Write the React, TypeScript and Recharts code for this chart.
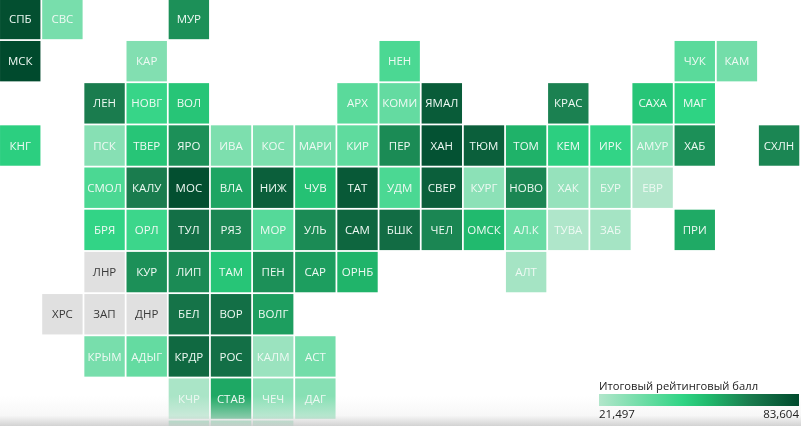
import { Scatter, ScatterChart, XAxis, YAxis } from "recharts";

// grid tile map of Russian regions, scores
// the last row is cut by the page edge in the picture, so it has no readable codes
const codes = [
  "СПБ", "СВС", "МУР",
  "МСК", "КАР", "НЕН", "ЧУК", "КАМ",
  "ЛЕН", "НОВГ", "ВОЛ", "АРХ", "КОМИ", "ЯМАЛ", "КРАС", "САХА", "МАГ",
  "КНГ", "ПСК", "ТВЕР", "ЯРО", "ИВА", "КОС", "МАРИ", "КИР", "ПЕР", "ХАН", "ТЮМ", "ТОМ", "КЕМ", "ИРК", "АМУР", "ХАБ", "СХЛН",
  "СМОЛ", "КАЛУ", "МОС", "ВЛА", "НИЖ", "ЧУВ", "ТАТ", "УДМ", "СВЕР", "КУРГ", "НОВО", "ХАК", "БУР", "ЕВР",
  "БРЯ", "ОРЛ", "ТУЛ", "РЯЗ", "МОР", "УЛЬ", "САМ", "БШК", "ЧЕЛ", "ОМСК", "АЛ.К", "ТУВА", "ЗАБ", "ПРИ",
  "ЛНР", "КУР", "ЛИП", "ТАМ", "ПЕН", "САР", "ОРНБ", "АЛТ",
  "ХРС", "ЗАП", "ДНР", "БЕЛ", "ВОР", "ВОЛГ",
  "КРЫМ", "АДЫГ", "КРДР", "РОС", "КАЛМ", "АСТ",
  "КЧР", "СТАВ", "ЧЕЧ", "ДАГ",
  "", "", "",
];
const cols = [
  0, 1, 4,
  0, 3, 9, 16, 17,
  2, 3, 4, 8, 9, 10, 13, 15, 16,
  0, 2, 3, 4, 5, 6, 7, 8, 9, 10, 11, 12, 13, 14, 15, 16, 18,
  2, 3, 4, 5, 6, 7, 8, 9, 10, 11, 12, 13, 14, 15,
  2, 3, 4, 5, 6, 7, 8, 9, 10, 11, 12, 13, 14, 16,
  2, 3, 4, 5, 6, 7, 8, 12,
  1, 2, 3, 4, 5, 6,
  2, 3, 4, 5, 6, 7,
  4, 5, 6, 7,
  4, 5, 6,
];
const rows = [
  0, 0, 0,
  1, 1, 1, 1, 1,
  2, 2, 2, 2, 2, 2, 2, 2, 2,
  3, 3, 3, 3, 3, 3, 3, 3, 3, 3, 3, 3, 3, 3, 3, 3, 3,
  4, 4, 4, 4, 4, 4, 4, 4, 4, 4, 4, 4, 4, 4,
  5, 5, 5, 5, 5, 5, 5, 5, 5, 5, 5, 5, 5, 5,
  6, 6, 6, 6, 6, 6, 6, 6,
  7, 7, 7, 7, 7, 7,
  8, 8, 8, 8, 8, 8,
  9, 9, 9, 9,
  10, 10, 10,
];
const scores: (number | null)[] = [
  82, 33, 64,
  83.6, 31, 42, 39, 34,
  68, 46, 52, 39, 37, 78, 67, 52, 48,
  49, 30, 52, 64, 32, 32, 34, 38, 65, 81, 77, 57, 49, 47, 30, 64, 66,
  42, 68, 82, 59.5, 77, 53, 79, 42, 77, 29, 66, 27, 27, 21.5,
  47, 45, 72, 66, 40, 65, 75, 73, 66, 55, 36, 22, 24, 58.5,
  null, 64, 65, 52, 64, 61, 56.5, 24,
  null, null, null, 71, 72, 61,
  33, 37, 74, 72, 26, 34,
  23, 59, 29, 30,
  34, 36, 30,
];

const legendTitle = "Итоговый рейтинговый балл";
const legendMin = "21,497";
const legendMax = "83,604";

const minScore = 21.497;
const maxScore = 83.604;
const stops: [number, number[]][] = [
  [0, [178, 230, 203]],
  [0.42, [47, 212, 132]],
  [0.55, [32, 184, 108]],
  [0.75, [26, 124, 78]],
  [1, [0, 74, 45]],
];
const FONT = "'Open Sans', sans-serif";
const TILE = 40.4;

function scoreColor(score: number | null) {
  if (score === null) return "#e0e0e0";
  const t = Math.min(1, Math.max(0, (score - minScore) / (maxScore - minScore)));
  let i = 0;
  while (i < stops.length - 2 && t > stops[i + 1][0]) i++;
  const [t0, c0] = stops[i];
  const [t1, c1] = stops[i + 1];
  const k = (t - t0) / (t1 - t0);
  const c = c0.map((v, j) => Math.round(v + (c1[j] - v) * k));
  return `rgb(${c[0]},${c[1]},${c[2]})`;
}

const data = codes.map((code, i) => ({ code, col: cols[i], row: rows[i], score: scores[i] }));

function Tile({ cx, cy, payload }: any) {
  const gray = payload.score === null;
  return (
    <g>
      <rect x={cx - TILE / 2} y={cy - TILE / 2} width={TILE} height={TILE} fill={scoreColor(payload.score)} />
      {payload.code && (
        <text
          x={cx}
          y={cy}
          dy="0.36em"
          textAnchor="middle"
          fontFamily={FONT}
          fontSize={11.5}
          fill={gray ? "#3a3a3a" : "#eef9f3"}
        >
          {payload.code}
        </text>
      )}
    </g>
  );
}

export default function App() {
  const gradient = stops.map(([t, c]) => `rgb(${c.join(",")}) ${t * 100}%`).join(", ");
  return (
    <div style={{ position: "absolute", left: 0, top: 0, width: 801, height: 429, overflow: "hidden", background: "#fff", filter: "blur(0.3px)" }}>
      <ScatterChart width={801} height={464} margin={{ top: 0, right: 0, bottom: 0, left: 0 }}>
        <XAxis type="number" dataKey="col" domain={[-0.48, 18.52]} hide />
        <YAxis type="number" dataKey="row" domain={[-0.45, 10.55]} reversed hide />
        <Scatter data={data} shape={<Tile />} isAnimationActive={false} />
      </ScatterChart>
      <div
        style={{
          position: "absolute",
          left: 0,
          top: 396,
          width: 801,
          height: 30,
          background:
            "linear-gradient(to bottom, rgba(240,240,240,0), rgba(238,238,238,0.45) 65%, rgba(205,205,205,0.9))",
        }}
      />
      <div style={{ position: "absolute", left: 0, top: 426, width: 801, height: 3, background: "#fff" }} />
      <div style={{ position: "absolute", left: 599, top: 378, width: 200, fontFamily: FONT, fontSize: 11.2, color: "#222", lineHeight: "16px", whiteSpace: "nowrap" }}>
        {legendTitle}
      </div>
      <div style={{ position: "absolute", left: 599, top: 394, width: 200, height: 12, background: `linear-gradient(to right, ${gradient})` }} />
      <div style={{ position: "absolute", left: 599, top: 406, width: 200, display: "flex", justifyContent: "space-between", fontFamily: FONT, fontSize: 11.5, color: "#222", lineHeight: "16px" }}>
        <span>{legendMin}</span>
        <span>{legendMax}</span>
      </div>
    </div>
  );
}
